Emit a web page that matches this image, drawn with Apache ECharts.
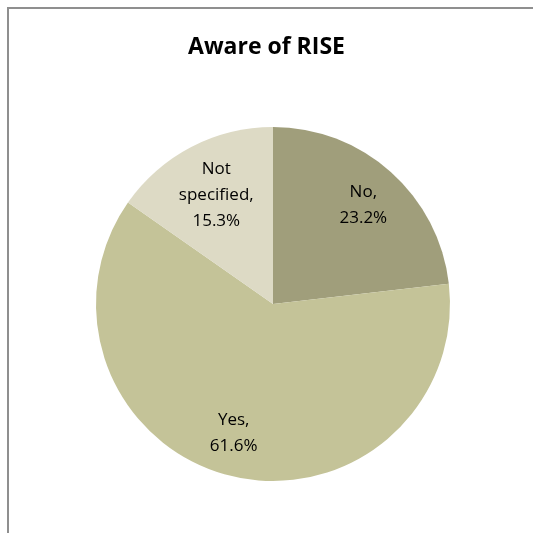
<!DOCTYPE html>
<html style="height: 100%">
<head>
    <meta charset="utf-8">
    <style type="text/css">
        .box{width: 533px;height:533px;}
    </style>
</head>
<body style="height: 100%; margin: 0">
<div class="box" id="container"></div>
<script src="https://cdn.jsdelivr.net/npm/echarts@6/dist/echarts.min.js"></script>
<script type="text/javascript">
    var categories = ['No', 'Yes', 'Not specified'];
    var values = [23.2, 61.6, 15.3];
    var colors = ['#A09E7B', '#C4C398', '#DDDAC5'];

    var dom = document.getElementById("container");
    var myPie = echarts.init(dom);

    // small nudges so labels sit where Excel put them
    var labelNudge = [[0, 2], [-6, -2], [6, 12]];

    var pieData = [];
    var labelData = [];
    for (var i = 0; i < categories.length; i++) {
        pieData.push({ name: categories[i], value: values[i] });
        labelData.push({ name: categories[i], value: values[i], label: { offset: labelNudge[i] } });
    }

    var R = 177;
    var option = {
        backgroundColor: '#ffffff',
        color: colors,
        title: {
            text: 'Aware of RISE',
            left: 'center',
            top: 31,
            textStyle: {
                fontFamily: 'Open Sans',
                fontWeight: 'bold',
                fontSize: 23,
                color: '#000000'
            }
        },
        graphic: [
            {
                type: 'polyline',
                shape: { points: [[8, 533], [8, 8], [533, 8]] },
                style: { stroke: '#8f8f8f', lineWidth: 2, fill: null },
                silent: true
            }
        ],
        series: [
            {
                // the slices
                type: 'pie',
                center: [273, 304],
                radius: [0, R],
                startAngle: 90,
                clockwise: true,
                silent: true,
                label: { show: false },
                labelLine: { show: false },
                data: pieData
            },
            {
                // transparent ring to place labels further out
                type: 'pie',
                center: [273, 304],
                radius: [R * 0.5, R],
                startAngle: 90,
                clockwise: true,
                silent: true,
                itemStyle: { color: 'rgba(0,0,0,0)' },
                labelLine: { show: false },
                label: {
                    show: true,
                    position: 'inside',
                    fontFamily: 'Open Sans',
                    fontSize: 17,
                    lineHeight: 26,
                    color: '#000000',
                    formatter: function (p) {
                        return p.name.replace(' ', '\n') + ',\n' + p.value.toFixed(1) + '%';
                    }
                },
                data: labelData
            }
        ]
    };
    myPie.setOption(option, true);
</script>
</body>
</html>
